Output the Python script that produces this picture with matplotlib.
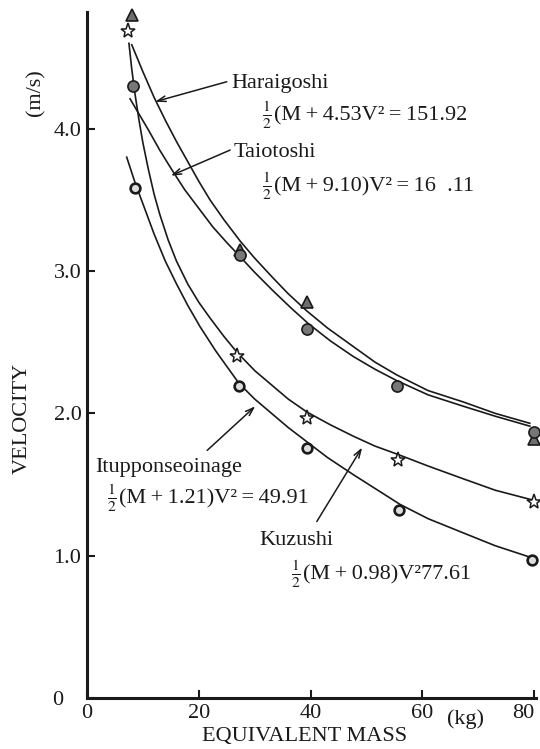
import numpy as np
import matplotlib
matplotlib.use("Agg")
import matplotlib.pyplot as plt
from matplotlib.transforms import offset_copy

plt.rcParams['font.family'] = 'serif'
plt.rcParams['font.serif'] = ['Liberation Serif', 'DejaVu Serif']
plt.rcParams['mathtext.fontset'] = 'stix'

# measured points (equivalent mass in kg, velocity in m/s)
hara_x = [8.0, 27.4, 39.4, 80.0]
hara_v = [4.80, 3.15, 2.78, 1.82]
taio_x = [8.3, 27.4, 39.4, 55.4, 80.0]
taio_v = [4.30, 3.11, 2.59, 2.19, 1.87]
itup_x = [7.3, 26.9, 39.4, 55.6, 80.0]
itup_v = [4.69, 2.40, 1.97, 1.67, 1.38]
kuzu_x = [8.6, 27.1, 39.4, 55.8, 79.5]
kuzu_v = [3.58, 2.19, 1.76, 1.32, 0.97]

# fitted curves
hara_cx = [8.0, 10.0, 12.0, 14.0, 16.0, 18.0, 20.0, 22.0, 24.5, 27.4, 30.0, 33.3,
           36.0, 39.3, 43.0, 47.6, 51.5, 55.4, 61.0, 67.3, 73.0, 79.2]
hara_cv = [4.59, 4.40, 4.22, 4.06, 3.91, 3.77, 3.63, 3.50, 3.36, 3.21, 3.09, 2.95,
           2.84, 2.72, 2.60, 2.47, 2.36, 2.27, 2.16, 2.08, 2.00, 1.93]
taio_cx = [7.7, 9.5, 11.0, 13.0, 15.2, 17.5, 20.0, 22.5, 25.0, 27.4, 30.0, 33.3,
           36.5, 39.6, 43.5, 47.6, 51.5, 55.4, 61.0, 67.3, 73.0, 79.2]
taio_cv = [4.21, 4.09, 3.99, 3.85, 3.71, 3.57, 3.44, 3.31, 3.20, 3.10, 2.99, 2.86,
           2.74, 2.63, 2.51, 2.40, 2.31, 2.23, 2.13, 2.05, 1.98, 1.91]
itup_cx = [7.5, 8.0, 8.6, 9.3, 10.0, 11.0, 12.0, 13.0, 14.5, 16.0, 18.0, 20.0, 22.0,
           24.5, 26.8, 30.0, 33.3, 36.0, 39.3, 43.5, 47.6, 51.5, 55.7, 61.0, 67.3, 73.0, 79.8]
itup_cv = [4.60, 4.42, 4.24, 4.06, 3.90, 3.71, 3.54, 3.40, 3.22, 3.07, 2.91, 2.78, 2.67,
           2.54, 2.43, 2.30, 2.19, 2.10, 2.01, 1.92, 1.84, 1.77, 1.71, 1.63, 1.54, 1.46, 1.39]
kuzu_cx = [7.1, 8.6, 10.4, 12.0, 14.0, 16.0, 18.0, 20.2, 23.0, 25.0, 27.2, 30.0, 33.3,
           36.0, 39.0, 43.0, 47.6, 52.4, 56.0, 61.0, 67.3, 73.0, 79.2]
kuzu_cv = [3.80, 3.62, 3.43, 3.26, 3.07, 2.91, 2.76, 2.61, 2.44, 2.33, 2.21, 2.10, 1.99,
           1.90, 1.81, 1.69, 1.57, 1.45, 1.36, 1.26, 1.16, 1.07, 0.99]

xticks = [0, 20, 40, 60, 80]
yticks = [0, 1.0, 2.0, 3.0, 4.0]
ytick_labels = ['0   ', '1.0', '2.0', '3.0', '4.0']

ink = '#1a1a1a'
fs = 16

fig = plt.figure(figsize=(5.4, 7.49), dpi=100)
ax = fig.add_axes([87 / 540, 51 / 749, 449 / 540, 686 / 749])

lw = 1.2
ax.plot(hara_cx, hara_cv, color=ink, lw=lw)
ax.plot(taio_cx, taio_cv, color=ink, lw=lw)
ax.plot(itup_cx, itup_cv, color=ink, lw=lw)
ax.plot(kuzu_cx, kuzu_cv, color=ink, lw=lw)

ax.plot(hara_x, hara_v, ls='none', marker='^', ms=9, mfc='#6e6e6e', mec=ink, mew=1.2, clip_on=False, zorder=5)
ax.plot(taio_x, taio_v, ls='none', marker='o', ms=8, mfc='#777777', mec=ink, mew=1.2, clip_on=False, zorder=6)
ax.plot(itup_x, itup_v, ls='none', marker='*', ms=11, mfc='white', mec=ink, mew=1.1, clip_on=False, zorder=5)
ax.plot(kuzu_x, kuzu_v, ls='none', marker='o', ms=7, mfc='#dddddd', mec=ink, mew=1.9, clip_on=False, zorder=5)

ax.set_xlim(0, 80.3)
ax.set_ylim(0, 4.82)
ax.set_xticks(xticks)
ax.set_xticklabels([str(t) for t in xticks])
ax.get_xticklabels()[-1].set_horizontalalignment('right')
ax.set_yticks(yticks)
ax.set_yticklabels(ytick_labels)
ax.tick_params(direction='in', length=6, width=1.5, labelsize=fs, colors=ink, pad=4)

for s in ['top', 'right']:
    ax.spines[s].set_visible(False)
for s in ['left', 'bottom']:
    ax.spines[s].set_linewidth(2.2)
    ax.spines[s].set_color(ink)

arrow = dict(arrowstyle='->,head_length=0.6,head_width=0.2', color=ink, lw=1.1, shrinkA=0, shrinkB=0)
eq_family = ['Liberation Serif', 'DejaVu Serif']
sp = '\u2009'


def equation(x, y, body):
    # stacked 1/2 followed by the rest of the formula
    ax.text(x, y, r'$\frac{1}{2}$', fontsize=fs, color=ink, va='baseline', ha='left')
    tr = offset_copy(ax.transData, fig=fig, x=8.5, y=0, units='points')
    ax.text(x, y, body.replace('+', sp + '+' + sp).replace('=', sp + '=' + sp),
            transform=tr, fontsize=fs, color=ink, va='baseline', ha='left', family=eq_family)


ax.annotate('', xy=(12.2, 4.19), xytext=(25.0, 4.33), arrowprops=arrow)
ax.text(25.8, 4.32, 'Haraigoshi', fontsize=fs, color=ink, va='center', ha='left')
equation(31.3, 4.06, '(M+4.53V²=151.92')

ax.annotate('', xy=(15.0, 3.67), xytext=(25.6, 3.85), arrowprops=arrow)
ax.text(26.3, 3.83, 'Taiotoshi', fontsize=fs, color=ink, va='center', ha='left')
equation(31.3, 3.56, '(M+9.10)V²=16  .11')

ax.annotate('', xy=(30.1, 2.05), xytext=(21.5, 1.74), arrowprops=arrow)
ax.text(1.4, 1.62, 'Itupponseoinage', fontsize=fs, color=ink, va='center', ha='left')
equation(3.6, 1.37, '(M+1.21)V²=49.91')

ax.annotate('', xy=(49.2, 1.76), xytext=(41.1, 1.24), arrowprops=arrow)
ax.text(30.9, 1.11, 'Kuzushi', fontsize=fs, color=ink, va='center', ha='left')
equation(36.5, 0.83, '(M+0.98)V²77.61')

fig.text(36 / 540, 1 - 93 / 749, '(m/s)', fontsize=fs, color=ink, rotation=90, ha='center', va='center')
fig.text(22 / 540, 1 - 418 / 749, 'VELOCITY', fontsize=fs, color=ink, rotation=90, ha='center', va='center')
fig.text(305 / 540, 1 - 737 / 749, 'EQUIVALENT MASS', fontsize=fs, color=ink, ha='center', va='center')
fig.text(465 / 540, 1 - 719 / 749, '(kg)', fontsize=fs, color=ink, ha='center', va='center')

fig.savefig('out.png', dpi=100, facecolor='white')
